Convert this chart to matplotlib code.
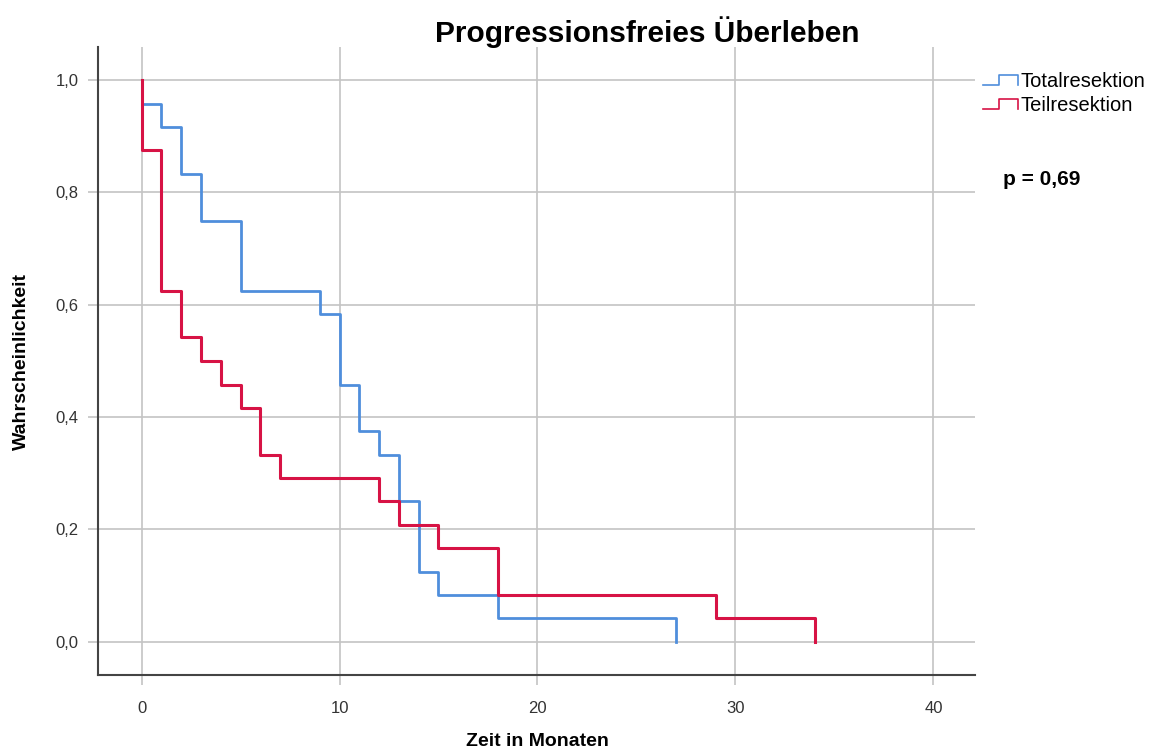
import matplotlib.pyplot as plt
from matplotlib.legend_handler import HandlerBase
from matplotlib.lines import Line2D

plt.rcParams['font.family'] = ['Liberation Sans', 'DejaVu Sans']

# Kaplan-Meier step data
total_time = [0, 0, 1, 2, 3, 5, 9, 10, 11, 12, 13, 14, 15, 18, 27]
total_surv = [1.0, 0.958, 0.917, 0.833, 0.75, 0.625, 0.583, 0.458, 0.375, 0.333, 0.25, 0.125, 0.083, 0.042, 0.0]

teil_time = [0, 0, 1, 2, 3, 4, 5, 6, 7, 12, 13, 15, 18, 29, 34]
teil_surv = [1.0, 0.875, 0.625, 0.542, 0.5, 0.458, 0.417, 0.333, 0.292, 0.25, 0.208, 0.167, 0.083, 0.042, 0.0]

labels = ['Totalresektion', 'Teilresektion']
colors = ['#4F8EDC', '#D71345']
x_ticks = [0, 10, 20, 30, 40]
y_ticks = [0.0, 0.2, 0.4, 0.6, 0.8, 1.0]


class StepHandler(HandlerBase):
    def create_artists(self, legend, orig_handle, xdescent, ydescent,
                       width, height, fontsize, trans):
        x0, x1 = -xdescent, -xdescent + width
        xs = [x0, x0 + 0.45 * width, x0 + 0.45 * width, x1, x1]
        ys = [0.1 * height, 0.1 * height, 0.8 * height, 0.8 * height, 0.1 * height]
        ln = Line2D(xs, ys, color=orig_handle.get_color(), lw=1.2, transform=trans)
        return [ln]


fig = plt.figure(figsize=(11.54, 7.54), dpi=100)
ax = fig.add_axes([0.0849, 0.1048, 0.7600, 0.8329])

h1, = ax.step(total_time, total_surv, where='post', color=colors[0], lw=2, zorder=3)
h2, = ax.step(teil_time, teil_surv, where='post', color=colors[1], lw=2.2, zorder=4)

ax.set_xlim(-2.2, 42.1)
ax.set_ylim(-0.059, 1.059)
ax.set_xticks(x_ticks)
ax.set_yticks(y_ticks)
ax.set_yticklabels([f'{v:.1f}'.replace('.', ',') for v in y_ticks])
ax.grid(True, color='#c4c4c4', lw=1.2)
ax.set_axisbelow(True)
ax.tick_params(length=7, width=1.2, color='#c4c4c4', labelsize=12, labelcolor='#333333')
ax.tick_params(axis='x', pad=12)
ax.tick_params(axis='y', pad=7)

for side in ['top', 'right']:
    ax.spines[side].set_visible(False)
for side in ['left', 'bottom']:
    ax.spines[side].set_color('#444444')
    ax.spines[side].set_linewidth(1.5)

fig.text(0.466, 0.016, 'Zeit in Monaten', fontsize=14, fontweight='bold',
         ha='center', va='center')
fig.text(0.019, 0.52, 'Wahrscheinlichkeit', fontsize=14, fontweight='bold',
         ha='center', va='center', rotation=90)
fig.text(0.561, 0.958, 'Progressionsfreies Überleben', fontsize=21.5, fontweight='bold',
         ha='center', va='center')

fig.legend([h1, h2], labels, handler_map={Line2D: StepHandler()},
           loc='upper left', bbox_to_anchor=(0.852, 0.905), frameon=False,
           fontsize=14.5, handlelength=1.75, handletextpad=0.1, labelspacing=0.25,
           borderaxespad=0, borderpad=0)
fig.text(0.869, 0.762, 'p = 0,69', fontsize=15, fontweight='bold', va='center')

fig.savefig('out.png', dpi=100)
